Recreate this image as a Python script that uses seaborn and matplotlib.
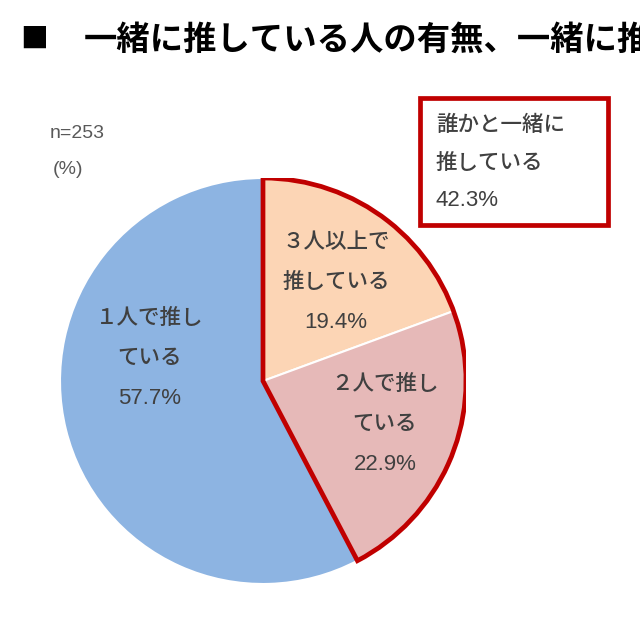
import numpy as np
import matplotlib
matplotlib.use("Agg")
import matplotlib.pyplot as plt
from matplotlib.patches import Wedge, Rectangle
import seaborn as sns

sns.set_theme(style="white")
plt.rcParams['font.family'] = ['Noto Sans CJK JP', 'DejaVu Sans']

# data
categories = [["３人以上で", "推している"], ["２人で推し", "ている"], ["１人で推し", "ている"]]
values = [19.4, 22.9, 57.7]
colors = ["#FCD5B5", "#E6B9B8", "#8DB4E2"]
together_label = ["誰かと一緒に", "推している"]
together_value = 42.3
n_label = "n=253"

fig = plt.figure(figsize=(6.4, 6.4), dpi=100)


def fx(px):
    return px / 640


def fy(py):
    return 1 - py / 640


# pie centre ~ (263, 381) px, radius ~203 px
cx, cy, r = fx(263), fy(381), 203 / 640
ax = fig.add_axes([cx - r, cy - r, 2 * r, 2 * r])
ax.pie(values, colors=colors, startangle=90, counterclock=False, radius=1,
       wedgeprops=dict(edgecolor="white", linewidth=1.5))
ax.set_xlim(-1, 1)
ax.set_ylim(-1, 1)
ax.set_aspect("equal")
ax.axis("off")

# red outline around the "together" wedges
ang = 360 * together_value / 100
ax.add_patch(Wedge((0, 0), 1, 90 - ang, 90, fill=False, edgecolor="#C00000",
                   linewidth=3.4, joinstyle="miter", zorder=5))

txt = "#404040"
num_font = ['Liberation Sans', 'Noto Sans CJK JP']
# (centre x, first line y) in pixels for each label
label_pos = [(336, 242), (385, 384), (150, 318)]
for (px, py), lines, v in zip(label_pos, categories, values):
    for i, line in enumerate(lines):
        fig.text(fx(px), fy(py + 40 * i), line, ha="center", va="center",
                 fontsize=15.5, color=txt, fontweight="medium")
    fig.text(fx(px), fy(py + 80), f"{v}%", ha="center", va="center",
             fontsize=16, color=txt, family=num_font)

# title (cut off at right edge like the source)
fig.text(fx(20), fy(40), "■", fontsize=20, color="black", va="center")
fig.text(fx(84), fy(40), "一緒に推している人の有無、一緒に推している人数",
         fontsize=24, fontweight="bold", color="black", va="center")

fig.text(fx(50), fy(133), n_label, fontsize=14, color="#595959", va="center",
         family=num_font)
fig.text(fx(53), fy(170), "(%)", fontsize=14, color="#595959", va="center",
         family=num_font)

# callout box
fig.patches.append(Rectangle((fx(420), fy(225)), 188 / 640, 127 / 640,
                             transform=fig.transFigure, fill=True, facecolor="white",
                             edgecolor="#C00000", linewidth=3.4))
for i, line in enumerate(together_label):
    fig.text(fx(436), fy(125 + 38 * i), line, fontsize=15.5, color=txt,
             va="center", ha="left", fontweight="medium")
fig.text(fx(436), fy(201), f"{together_value}%", fontsize=16, color=txt,
         va="center", ha="left", family=num_font)

fig.savefig("out.png", dpi=100)
